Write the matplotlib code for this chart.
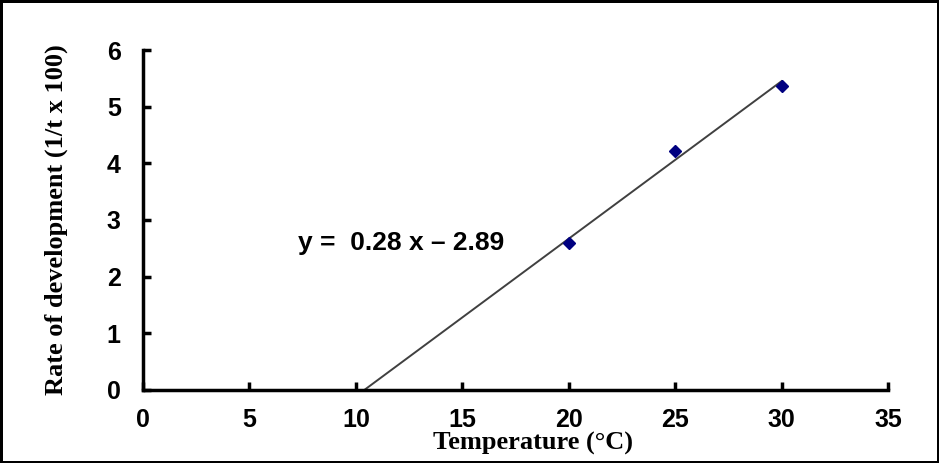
import numpy as np
import matplotlib.pyplot as plt

# observed development rates
temperature = [20, 25, 30]
rate = [2.59, 4.22, 5.37]

slope = 0.28
intercept = -2.89
x_ticks = [0, 5, 10, 15, 20, 25, 30, 35]
y_ticks = [0, 1, 2, 3, 4, 5, 6]

fig = plt.figure(figsize=(9.39, 4.63), dpi=100, linewidth=2.5, edgecolor='black')
ax = fig.add_axes([0.1523, 0.1577, 0.7934, 0.7343])

# fitted line from fit of the points, drawn from the x intercept to 30
coef = np.polyfit(temperature, rate, 1)
x0 = -coef[1] / coef[0]
xs = np.array([x0, max(temperature)])
ax.plot(xs, np.polyval(coef, xs), color='#404040', linewidth=1.4, zorder=2)

ax.plot(temperature, rate, linestyle='none', marker='D', markersize=6.5,
        color='#000080', zorder=3)

ax.text(7.3, 2.6, 'y =  %.2f x – %.2f' % (slope, -intercept), fontsize=19,
        fontweight='bold', family='Liberation Sans', va='center')

ax.set_xlim(0, 35)
ax.set_ylim(0, 6)
ax.set_xticks(x_ticks)
ax.set_yticks(y_ticks)
for s in ['top', 'right']:
    ax.spines[s].set_visible(False)
for s in ['left', 'bottom']:
    ax.spines[s].set_linewidth(2.5)
ax.tick_params(direction='in', length=6, width=2.5, labelsize=18)
ax.tick_params(axis='x', pad=13)
ax.tick_params(axis='y', pad=16)
for lab in ax.get_xticklabels() + ax.get_yticklabels():
    lab.set_fontweight('bold')
    lab.set_family('Liberation Sans')

ax.set_xlabel('Temperature (°C)', fontsize=19, fontweight='bold',
              family='Liberation Serif')
ax.xaxis.set_label_coords(0.523, -0.122)
ax.set_ylabel('Rate of development (1/t x 100)', fontsize=19, fontweight='bold',
              family='Liberation Serif', labelpad=28)

fig.savefig('out.png', dpi=100, edgecolor=fig.get_edgecolor())
